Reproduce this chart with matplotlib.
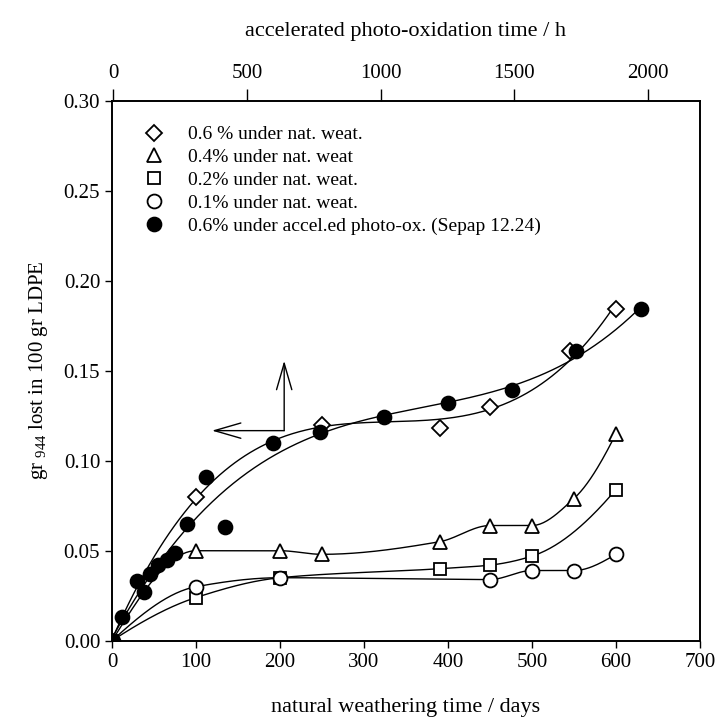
import numpy as np
import matplotlib.pyplot as plt

plt.rcParams['font.family'] = ['Liberation Serif', 'DejaVu Serif']
plt.rcParams['mathtext.fontset'] = 'custom'
plt.rcParams['mathtext.rm'] = 'Liberation Serif'
plt.rcParams['mathtext.it'] = 'Liberation Serif:italic'

# natural weathering (days)
days_06 = [0, 100, 250, 390, 450, 545, 600]
gr_06 = [0, 0.080, 0.120, 0.118, 0.130, 0.161, 0.184]
days_04 = [0, 100, 200, 250, 390, 450, 500, 550, 600]
gr_04 = [0, 0.050, 0.050, 0.048, 0.055, 0.064, 0.064, 0.079, 0.115]
days_02 = [0, 100, 200, 390, 450, 500, 600]
gr_02 = [0, 0.024, 0.035, 0.040, 0.042, 0.047, 0.084]
days_01 = [0, 100, 200, 450, 500, 550, 600]
gr_01 = [0, 0.030, 0.035, 0.034, 0.039, 0.039, 0.048]

# accelerated photo-oxidation (hours, top axis)
hours_acc = [0, 34, 89, 114, 137, 168, 199, 230, 276, 346, 417, 597, 775,
             1013, 1254, 1492, 1731, 1973]
gr_acc = [0, 0.013, 0.033, 0.027, 0.037, 0.042, 0.045, 0.049, 0.065, 0.091,
          0.063, 0.110, 0.116, 0.124, 0.132, 0.139, 0.161, 0.184]

labels = ['0.6 % under nat. weat.', '0.4% under nat. weat',
          '0.2% under nat. weat.', '0.1% under nat. weat.',
          '0.6% under accel.ed photo-ox. (Sepap 12.24)']


def poly_curve(x, y, deg):
    # least squares polynomial through the measured points
    x = np.asarray(x, float)
    coef = np.polyfit(x, y, deg)
    xs = np.linspace(0, x.max(), 300)
    return xs, np.polyval(coef, xs)


def pchip_curve(x, y, n=300):
    # monotone cubic (Fritsch-Carlson) line joining the points smoothly
    x = np.asarray(x, float)
    y = np.asarray(y, float)
    h = np.diff(x)
    d = np.diff(y) / h
    m = np.zeros_like(y)
    for k in range(1, len(x) - 1):
        if d[k - 1] * d[k] > 0:
            w1 = 2 * h[k] + h[k - 1]
            w2 = h[k] + 2 * h[k - 1]
            m[k] = (w1 + w2) / (w1 / d[k - 1] + w2 / d[k])
    m[0] = ((2 * h[0] + h[1]) * d[0] - h[0] * d[1]) / (h[0] + h[1])
    if np.sign(m[0]) != np.sign(d[0]):
        m[0] = 0
    m[-1] = ((2 * h[-1] + h[-2]) * d[-1] - h[-1] * d[-2]) / (h[-1] + h[-2])
    if np.sign(m[-1]) != np.sign(d[-1]):
        m[-1] = 0
    xs = np.linspace(x[0], x[-1], n)
    idx = np.clip(np.searchsorted(x, xs) - 1, 0, len(x) - 2)
    t = (xs - x[idx]) / h[idx]
    h00 = 2 * t**3 - 3 * t**2 + 1
    h10 = t**3 - 2 * t**2 + t
    h01 = -2 * t**3 + 3 * t**2
    h11 = t**3 - t**2
    ys = (h00 * y[idx] + h10 * h[idx] * m[idx] + h01 * y[idx + 1]
          + h11 * h[idx] * m[idx + 1])
    return xs, ys


fig = plt.figure(figsize=(7.17, 7.24), dpi=100)
ax = fig.add_axes([0.1562, 0.115, 0.820, 0.746])
ax2 = ax.twiny()

line_kw = dict(color='black', lw=1.0, zorder=2)
mk = dict(linestyle='none', color='black', mec='black', mew=1.3, zorder=3)

ax.plot(*poly_curve(days_06, gr_06, 3), **line_kw)
for x, y in [(days_04, gr_04), (days_02, gr_02), (days_01, gr_01)]:
    ax.plot(*pchip_curve(x, y), **line_kw)

h1, = ax.plot(days_06, gr_06, marker='D', ms=8.5, mfc='white', **mk)
h2, = ax.plot(days_04, gr_04, marker='^', ms=10, mfc='white', **mk)
h3, = ax.plot(days_02, gr_02, marker='s', ms=9, mfc='white', **mk)
h4, = ax.plot(days_01, gr_01, marker='o', ms=10, mfc='white', **mk)

ax2.plot(*poly_curve(hours_acc, gr_acc, 3), **line_kw)
h5, = ax2.plot(hours_acc, gr_acc, marker='o', ms=10, mfc='black', **mk)

ax.set_xlim(0, 700)
ax.set_ylim(0, 0.30)
ax.set_xticks(np.arange(0, 701, 100))
ax.set_yticks(np.arange(0, 0.31, 0.05))
ax.yaxis.set_major_formatter(plt.FormatStrFormatter('%.2f'))
ax2.set_xlim(-5, 2195)
ax2.set_xticks(np.arange(0, 2001, 500))

ax.tick_params(axis='both', direction='out', length=5, width=1.0,
               labelsize=15, right=False, top=False)
ax2.tick_params(axis='x', direction='out', length=9, width=1.0, labelsize=15)
for a in (ax, ax2):
    for s in a.spines.values():
        s.set_linewidth(1.2)

ax.set_xlabel('natural weathering time / days', fontsize=16, labelpad=19)
ax2.set_xlabel('accelerated photo-oxidation time / h', fontsize=16, labelpad=20)
ax.set_ylabel(r'gr $_{944}$ lost in 100 gr LDPE', fontsize=15, labelpad=10)

# arrows pointing at the two axes
arrow = dict(arrowstyle='->,head_length=1.9,head_width=0.55', lw=1.0,
             color='black', shrinkA=0, shrinkB=0)
ax.annotate('', xy=(119, 0.1167), xytext=(205, 0.1167), arrowprops=arrow)
ax.annotate('', xy=(205, 0.1555), xytext=(205, 0.1167), arrowprops=arrow)

ax.legend([h1, h2, h3, h4, h5], labels, loc='upper left',
          bbox_to_anchor=(0.025, 0.968), frameon=False, fontsize=14,
          handletextpad=0.75, labelspacing=0.27, borderaxespad=0)

fig.savefig('out.png', dpi=100)
